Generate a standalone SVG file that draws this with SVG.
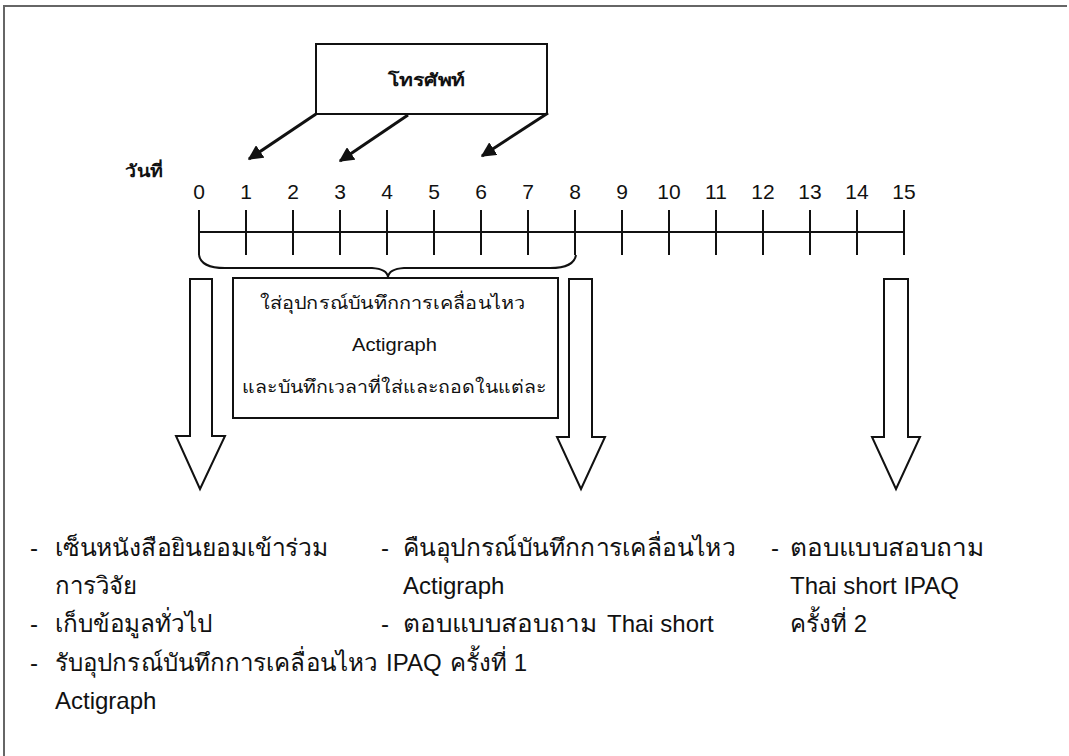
<svg xmlns="http://www.w3.org/2000/svg" width="1069" height="756" viewBox="0 0 1069 756">
<style>
.ln{stroke:#111;stroke-width:2;fill:none}
.bx{stroke:#111;stroke-width:2;fill:#fff}
.num{font-family:"Liberation Sans",Arial,sans-serif;font-size:21px;fill:#111;text-anchor:middle}
.lbl{font-family:"Liberation Sans","Noto Sans",sans-serif;font-size:17px;font-weight:bold;fill:#111}
.box{font-family:"Liberation Sans","Noto Sans",sans-serif;font-size:18px;fill:#111}
.txt{font-family:"Liberation Sans","Noto Sans",sans-serif;font-size:24px;fill:#111}
</style>
<defs>
<marker id="ah" viewBox="0 0 10 10" refX="9" refY="5" markerWidth="5" markerHeight="5" orient="auto" markerUnits="strokeWidth">
<path d="M0,0 L10,5 L0,10 z" fill="#111"/>
</marker>
</defs>
<rect width="1069" height="756" fill="#fff"/>
<path d="M4,756 L4,6 L1067,6" stroke="#666" stroke-width="2" fill="none"/>

<g id="phone">
<rect class="bx" x="316" y="44" width="231" height="70"/>
<text class="lbl" x="388" y="86" textLength="77" lengthAdjust="spacingAndGlyphs">โทรศัพท์</text>
</g>

<g id="day-label">
<text class="lbl" x="125" y="177" textLength="38" lengthAdjust="spacingAndGlyphs">วันที่</text>
</g>

<g id="timeline">
<line class="ln" x1="199" y1="232" x2="904" y2="232"/>
<g class="ln">
<line x1="199" y1="210" x2="199" y2="255"/>
<line x1="246" y1="210" x2="246" y2="255"/>
<line x1="293" y1="210" x2="293" y2="255"/>
<line x1="340" y1="210" x2="340" y2="255"/>
<line x1="387" y1="210" x2="387" y2="255"/>
<line x1="434" y1="210" x2="434" y2="255"/>
<line x1="481" y1="210" x2="481" y2="255"/>
<line x1="528" y1="210" x2="528" y2="255"/>
<line x1="575" y1="210" x2="575" y2="255"/>
<line x1="622" y1="210" x2="622" y2="255"/>
<line x1="669" y1="210" x2="669" y2="255"/>
<line x1="716" y1="210" x2="716" y2="255"/>
<line x1="763" y1="210" x2="763" y2="255"/>
<line x1="810" y1="210" x2="810" y2="255"/>
<line x1="857" y1="210" x2="857" y2="255"/>
<line x1="904" y1="210" x2="904" y2="255"/>
</g>
<text class="num" x="199" y="199">0</text>
<text class="num" x="246" y="199">1</text>
<text class="num" x="293" y="199">2</text>
<text class="num" x="340" y="199">3</text>
<text class="num" x="387" y="199">4</text>
<text class="num" x="434" y="199">5</text>
<text class="num" x="481" y="199">6</text>
<text class="num" x="528" y="199">7</text>
<text class="num" x="575" y="199">8</text>
<text class="num" x="622" y="199">9</text>
<text class="num" x="669" y="199">10</text>
<text class="num" x="716" y="199">11</text>
<text class="num" x="763" y="199">12</text>
<text class="num" x="810" y="199">13</text>
<text class="num" x="857" y="199">14</text>
<text class="num" x="904" y="199">15</text>
</g>

<g id="brace">
<path class="ln" d="M199,255 Q201,268 225,268 L372,268 Q387,269 388,277 Q389,269 404,268 L550,268 Q574,268 576,255"/>
</g>

<g id="wear-box">
<rect class="bx" x="233" y="278" width="325" height="140"/>
<text class="box" x="260" y="309" textLength="265" lengthAdjust="spacingAndGlyphs">ใส่อุปกรณ์บันทึกการเคลื่อนไหว</text>
<text class="box" x="352" y="351" font-size="16" textLength="85" lengthAdjust="spacingAndGlyphs">Actigraph</text>
<text class="box" x="242" y="393" textLength="305" lengthAdjust="spacingAndGlyphs">และบันทึกเวลาที่ใส่และถอดในแต่ละ</text>
</g>

<g id="arrow-day0">
<path class="bx" d="M190,279 L212,279 L212,436 L225,436 L200,489 L176,436 L190,436 Z"/>
</g>
<g id="arrow-day8">
<path class="bx" d="M569,279 L592,279 L592,437 L605,437 L581,489 L557,437 L569,437 Z"/>
</g>
<g id="arrow-day15">
<path class="bx" d="M884,279 L908,279 L908,437 L920,437 L896,489 L872,437 L884,437 Z"/>
</g>

<g id="connectors">
<line x1="316" y1="114" x2="249" y2="159" stroke="#111" stroke-width="3" marker-end="url(#ah)"/>
<line x1="408" y1="115" x2="340" y2="161" stroke="#111" stroke-width="3" marker-end="url(#ah)"/>
<line x1="548" y1="113" x2="482" y2="156" stroke="#111" stroke-width="3" marker-end="url(#ah)"/>
</g>

<g id="col1">
<text class="txt" x="30" y="556">-</text>
<text class="txt" x="55" y="556" textLength="273" lengthAdjust="spacingAndGlyphs">เซ็นหนังสือยินยอมเข้าร่วม</text>
<text class="txt" x="55" y="594" textLength="82" lengthAdjust="spacingAndGlyphs">การวิจัย</text>
<text class="txt" x="30" y="632">-</text>
<text class="txt" x="55" y="632" textLength="157" lengthAdjust="spacingAndGlyphs">เก็บข้อมูลทั่วไป</text>
<text class="txt" x="30" y="671">-</text>
<text class="txt" x="55" y="671" textLength="322" lengthAdjust="spacingAndGlyphs">รับอุปกรณ์บันทึกการเคลื่อนไหว</text>
<text class="txt" x="55" y="709">Actigraph</text>
</g>
<g id="col2">
<text class="txt" x="381" y="556">-</text>
<text class="txt" x="403" y="556" textLength="332" lengthAdjust="spacingAndGlyphs">คืนอุปกรณ์บันทึกการเคลื่อนไหว</text>
<text class="txt" x="403" y="594">Actigraph</text>
<text class="txt" x="381" y="632">-</text>
<text class="txt" x="403" y="632" textLength="194" lengthAdjust="spacingAndGlyphs">ตอบแบบสอบถาม</text>
<text class="txt" x="607" y="632">Thai short</text>
<text class="txt" x="386" y="671">IPAQ</text>
<text class="txt" x="450" y="671">ครั้งที่ 1</text>
</g>
<g id="col3">
<text class="txt" x="771" y="556">-</text>
<text class="txt" x="790" y="556" textLength="194" lengthAdjust="spacingAndGlyphs">ตอบแบบสอบถาม</text>
<text class="txt" x="790" y="594">Thai short IPAQ</text>
<text class="txt" x="790" y="632">ครั้งที่ 2</text>
</g>
</svg>
